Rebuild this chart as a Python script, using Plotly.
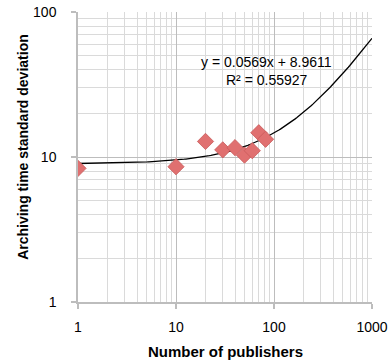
import numpy as np
import plotly.graph_objects as go

# Archiving-time spread vs publisher count
publishers = [1, 10, 20, 30, 40, 50, 60, 70, 82]
std_dev = [8.35, 8.57, 12.8, 11.2, 11.6, 10.3, 11.05, 14.7, 13.25]

# Linear trend fitted on the raw values
slope = 0.0569
intercept = 8.9611
r_squared = 0.55927

x_tick_vals = [1, 10, 100, 1000]
y_tick_vals = [1, 10, 100]

trend_x = np.logspace(0, 3, 200)
trend_y = slope * trend_x + intercept

font_family = "Liberation Sans, Arial, sans-serif"

fig = go.Figure()
fig.add_trace(go.Scatter(
    x=trend_x, y=trend_y, mode="lines",
    line=dict(color="black", width=1.3),
    hoverinfo="skip", showlegend=False,
))
fig.add_trace(go.Scatter(
    x=publishers, y=std_dev, mode="markers",
    marker=dict(symbol="diamond", size=12.5, color="#e07070",
                line=dict(color="#c85a5a", width=0.8)),
    showlegend=False,
))

# Trendline equation, two lines
fig.add_annotation(
    x=1.926, y=1.657, xref="x", yref="y",
    text=f"y = {slope}x + {intercept}", showarrow=False,
    font=dict(family=font_family, size=14, color="black"),
)
fig.add_annotation(
    x=1.93, y=1.532, xref="x", yref="y",
    text=f"R² = {r_squared}", showarrow=False,
    font=dict(family=font_family, size=14, color="black"),
)

# Axis titles
fig.add_annotation(
    x=0.5, y=-0.172, xref="paper", yref="paper", yanchor="middle",
    text="<b>Number of publishers</b>", showarrow=False,
    font=dict(family=font_family, size=15, color="black"),
)
fig.add_annotation(
    x=-0.188, y=0.534, xref="paper", yref="paper", xanchor="center", yanchor="middle",
    text="<b>Archiving time standard deviation</b>", showarrow=False, textangle=-90,
    font=dict(family=font_family, size=14, color="black"),
)

axis_common = dict(
    type="log", automargin=False,
    showline=True, linecolor="#bdbdbd", linewidth=1.5,
    showgrid=True, gridcolor="#bdbdbd", gridwidth=1,
    ticks="outside", ticklen=5, tickcolor="#bdbdbd", tickwidth=1.5,
    tickfont=dict(family=font_family, size=14, color="black"),
    minor=dict(showgrid=True, gridcolor="#dadada", gridwidth=1, dtick="D1"),
    zeroline=False, mirror=False,
)

fig.update_xaxes(
    **axis_common,
    range=[0, 3], tickvals=x_tick_vals, ticktext=[str(v) for v in x_tick_vals],
    ticklabelstandoff=6,
)
fig.update_yaxes(
    **axis_common,
    range=[0, 2], tickvals=y_tick_vals, ticktext=[str(v) for v in y_tick_vals],
    ticklabelstandoff=12,
)

fig.update_layout(
    width=390, height=364,
    margin=dict(l=78, r=18, t=12, b=62),
    plot_bgcolor="white", paper_bgcolor="white",
)

fig.write_html("out.html")
